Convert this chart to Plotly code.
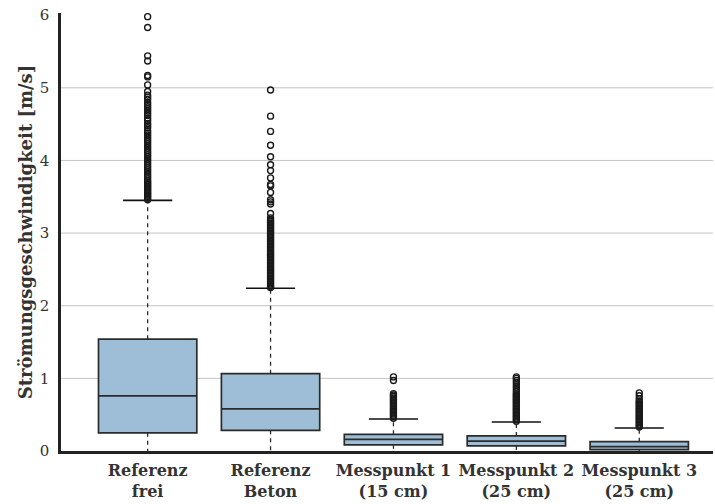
import plotly.graph_objects as go

categories = ["Referenz<br>frei", "Referenz<br>Beton", "Messpunkt 1<br>(15 cm)",
              "Messpunkt 2<br>(25 cm)", "Messpunkt 3<br>(25 cm)"]
q1 = [0.25, 0.285, 0.085, 0.07, 0.02]
median = [0.76, 0.58, 0.16, 0.135, 0.06]
q3 = [1.54, 1.065, 0.23, 0.207, 0.128]
lowerfence = [0.0, 0.0, 0.0, 0.0, 0.0]
upperfence = [3.45, 2.24, 0.44, 0.40, 0.317]

outliers_frei = [5.98, 5.83, 5.44, 5.37, 5.17, 5.15, 5.04, 4.95, 4.90, 4.87, 4.84, 4.80, 4.77,
                 4.74, 4.71, 4.68, 4.65, 4.62, 4.58, 4.55, 4.51, 4.48, 4.45, 4.41, 4.38, 4.35,
                 4.32, 4.29, 4.26, 4.23, 4.20, 4.17, 4.14, 4.11, 4.08, 4.05, 4.02, 3.99, 3.96,
                 3.93, 3.90, 3.87, 3.84, 3.81, 3.78, 3.75, 3.72, 3.70, 3.68, 3.66, 3.64, 3.62,
                 3.60, 3.58, 3.56, 3.54, 3.52, 3.50, 3.48, 3.46]
outliers_beton = [4.97, 4.61, 4.40, 4.21, 4.05, 3.94, 3.86, 3.76, 3.67, 3.65, 3.56, 3.46, 3.43,
                  3.40, 3.27, 3.21, 3.18, 3.16, 3.14, 3.12, 3.10, 3.08, 3.06, 3.04, 3.02, 3.00,
                  2.98, 2.96, 2.94, 2.92, 2.90, 2.88, 2.86, 2.84, 2.82, 2.80, 2.78, 2.76, 2.74,
                  2.72, 2.70, 2.68, 2.66, 2.64, 2.62, 2.60, 2.58, 2.56, 2.54, 2.52, 2.50, 2.48,
                  2.46, 2.44, 2.42, 2.40, 2.38, 2.36, 2.34, 2.32, 2.30, 2.28, 2.26, 2.25]
outliers_mp1 = [1.02, 0.97, 0.79, 0.77, 0.75, 0.73, 0.71, 0.69, 0.67, 0.65, 0.63, 0.61, 0.59,
                0.57, 0.55, 0.53, 0.51, 0.49, 0.47, 0.45]
outliers_mp2 = [1.02, 1.00, 0.97, 0.94, 0.91, 0.88, 0.85, 0.82, 0.79, 0.77, 0.75, 0.73, 0.71,
                0.69, 0.67, 0.65, 0.63, 0.61, 0.59, 0.57, 0.55, 0.53, 0.51, 0.49, 0.47, 0.45,
                0.43, 0.41]
outliers_mp3 = [0.80, 0.76, 0.72, 0.69, 0.67, 0.65, 0.63, 0.61, 0.59, 0.57, 0.55, 0.53, 0.51,
                0.49, 0.47, 0.45, 0.43, 0.41, 0.39, 0.37, 0.35, 0.33]
outliers = [outliers_frei, outliers_beton, outliers_mp1, outliers_mp2, outliers_mp3]

y_ticks = [0, 1, 2, 3, 4, 5, 6]
grid_values = [1, 2, 3, 4, 5]

BOX_W = 0.8
CAP_HALF = 0.2
FONT = "DejaVu Serif"
DARK = "#2b2b2b"

xs = list(range(len(categories)))

fig = go.Figure()

# dashed whiskers
wx, wy = [], []
for i in xs:
    wx += [i, i, None, i, i, None]
    wy += [q3[i], upperfence[i], None, q1[i], lowerfence[i], None]
fig.add_trace(go.Scatter(x=wx, y=wy, mode="lines", line=dict(color=DARK, width=1.3, dash="4px,4px"),
                         hoverinfo="skip", showlegend=False))

fig.add_trace(go.Box(x=xs, q1=q1, median=median, q3=q3, lowerfence=q1, upperfence=q3,
                     width=BOX_W, fillcolor="#9ebed7", line=dict(color=DARK, width=1.7),
                     boxpoints=False, hoverinfo="skip", showlegend=False))

# whisker caps
cx, cy = [], []
for i in xs:
    cx += [i - CAP_HALF, i + CAP_HALF, None]
    cy += [upperfence[i], upperfence[i], None]
fig.add_trace(go.Scatter(x=cx, y=cy, mode="lines", line=dict(color="#111", width=1.6),
                         hoverinfo="skip", showlegend=False))

# outliers
ox, oy = [], []
for i in xs:
    ox += [i] * len(outliers[i])
    oy += outliers[i]
fig.add_trace(go.Scatter(x=ox, y=oy, mode="markers",
                         marker=dict(symbol="circle-open", size=6, color="#1a1a1a", line=dict(width=1.4)),
                         hoverinfo="skip", showlegend=False))

for g in grid_values:
    fig.add_shape(type="line", xref="paper", x0=0, x1=1, yref="y", y0=g, y1=g,
                  line=dict(color="#c4c4c4", width=1), layer="below")

fig.update_layout(
    width=715, height=504,
    margin=dict(l=61, r=2, t=13, b=53),
    plot_bgcolor="white", paper_bgcolor="white",
    font=dict(family=FONT, color="#333"),
    boxmode="overlay",
)
fig.update_xaxes(range=[-0.705, 4.6], tickvals=xs,
                 ticktext=["<b>" + c.replace("<br>", "</b><br><b>") + "</b>" for c in categories],
                 tickfont=dict(family=FONT, size=16, color="#333"),
                 showline=True, linecolor="#222", linewidth=2.5, showgrid=False, zeroline=False,
                 ticks="outside", ticklen=3, tickcolor="rgba(0,0,0,0)")
fig.update_yaxes(range=[0, 6.03], tickvals=y_ticks,
                 tickfont=dict(family=FONT, size=15, color="#333"),
                 showline=True, linecolor="#222", linewidth=2.5, showgrid=False, zeroline=False,
                 ticks="outside", ticklen=6, tickcolor="rgba(0,0,0,0)",
                 title=dict(text="<b>Strömungsgeschwindigkeit [m/s]</b>",
                            font=dict(family=FONT, size=18, color="#333"), standoff=3))

fig.write_html("out.html", config={"displayModeBar": False},
               post_script="document.body.style.margin='0px';")
